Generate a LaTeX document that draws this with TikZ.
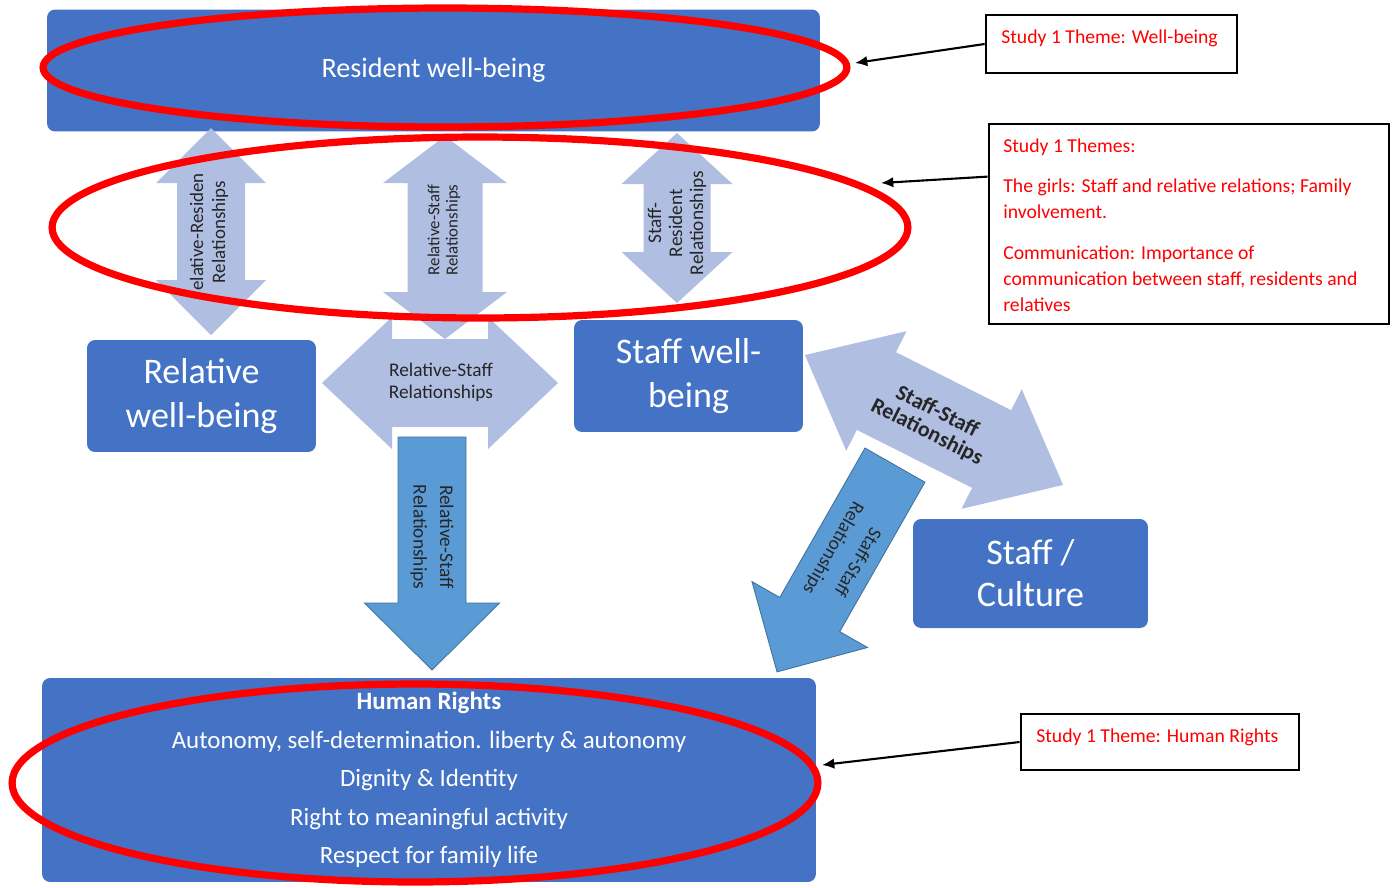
\documentclass[tikz,border=0pt]{standalone}
\usepackage{fontspec}
\setmainfont{Carlito}
\usetikzlibrary{arrows.meta,shapes.geometric}
\definecolor{boxblue}{HTML}{4472C4}
\definecolor{paleblue}{HTML}{B0BEE2}
\definecolor{midblue}{HTML}{5B9BD5}
\definecolor{midblueedge}{HTML}{41719C}
\definecolor{ringred}{HTML}{FF0000}
\definecolor{labelgrey}{HTML}{262626}
\newcommand{\fsz}[2]{\fontsize{#1}{#2}\selectfont}
% block arrows in local coordinates:
% #1 style, #2 half length, #3 head length, #4 half head width, #5 half shaft width
\newcommand{\twohead}[5]{%
  \path[#1] (-#2,0) -- (-#2+#3,#4) -- (-#2+#3,#5) -- (#2-#3,#5) -- (#2-#3,#4)
    -- (#2,0) -- (#2-#3,-#4) -- (#2-#3,-#5) -- (-#2+#3,-#5) -- (-#2+#3,-#4) -- cycle;}
\newcommand{\onehead}[5]{%
  \path[#1] (-#2,-#5) -- (#2-#3,-#5) -- (#2-#3,-#4) -- (#2,0) -- (#2-#3,#4)
    -- (#2-#3,#5) -- (-#2,#5) -- cycle;}

\begin{document}
\begin{tikzpicture}[
  x=0.02cm,
  y=-0.02cm,
  every node/.style={font=\fsz{11}{13}},
  bluebox/.style={rectangle, rounded corners=0.16cm, fill=boxblue, text=white,
                  align=center, inner sep=0pt},
  ring/.style={ellipse, draw=ringred, line width=4.1pt, inner sep=0pt},
  themebox/.style={rectangle, draw=black, line width=1.6pt, inner sep=0pt},
  themetext/.style={anchor=north west, text=ringred, align=left, inner sep=0pt,
                    font=\fsz{11.2}{15}},
  palearrow/.style={fill=paleblue},
  midarrow/.style={fill=midblue, draw=midblueedge, line width=0.5pt},
  arrowlabel/.style={text=labelgrey, align=center, inner sep=0pt},
  callarrow/.style={black, line width=1.2pt, -{Latex[length=7pt, width=6pt]}}
]
  \useasboundingbox (0,0) rectangle (1394,887);

  % ---- well-being boxes ----
  \node[bluebox, minimum width=15.46cm, minimum height=2.44cm, font=\fsz{16}{19}]
    (resident) at (433.5,70.5) {Resident well-being};
  \node[bluebox, minimum width=4.58cm, minimum height=2.24cm, font=\fsz{20.5}{25}]
    (relative) at (201.5,396) {Relative\\well-being};
  \node[bluebox, minimum width=4.58cm, minimum height=2.24cm, font=\fsz{20.5}{25}]
    (staff) at (688.5,376) {Staff well-\\being};
  \node[bluebox, minimum width=4.7cm, minimum height=2.18cm, font=\fsz{20.5}{24}]
    (culture) at (1030.5,573.5) {Staff /\\Culture};
  \node[bluebox, minimum width=15.48cm, minimum height=4.08cm, font=\fsz{14.2}{21.9}]
    (rights) at (429,780) {\textbf{Human Rights}\\
      Autonomy, self-determination. liberty \& autonomy\\
      Dignity \& Identity\\
      Right to meaningful activity\\
      Respect for family life};

  % ---- relationship arrows ----
  \begin{scope}[shift={(211,231.5)}, rotate=90]
    \twohead{palearrow}{103.5}{55}{55}{34}
  \end{scope}
  \begin{scope}[shift={(445,237.5)}, rotate=90]
    \twohead{palearrow}{101.5}{47}{62}{37.5}
  \end{scope}
  \begin{scope}[shift={(677,218)}, rotate=90]
    \twohead{palearrow}{85}{51}{55.5}{33.5}
  \end{scope}
  \begin{scope}[shift={(440,383)}]
    \twohead{palearrow}{118}{70}{66}{44}
  \end{scope}
  \begin{scope}[shift={(934,420)}, rotate=-26.7]
    \twohead{palearrow}{144.5}{80}{67}{43.5}
  \end{scope}
  \begin{scope}[shift={(432,553.5)}, rotate=-90]
    \onehead{midarrow}{116.5}{67}{67.5}{34}
  \end{scope}
  \begin{scope}[shift={(836,568.5)}, rotate=-119.7]
    \onehead{midarrow}{119}{66}{66.5}{34.5}
  \end{scope}

  % ---- arrow labels ----
  \node[arrowlabel, rotate=90, font=\fsz{10.8}{12.5}] (relreslabel) at (209,232)
    {elative-Residen\\Relationships};
  \node[arrowlabel, rotate=90, font=\fsz{9.6}{10.5}] (relstafflabel) at (444,230)
    {Relative-Staff\\Relationships};
  \node[arrowlabel, rotate=90, font=\fsz{11}{12}] (staffreslabel) at (677,223)
    {Staff-\\Resident\\Relationships};
  \node[arrowlabel, font=\fsz{11}{12.5}] (relstaffmid) at (441,382)
    {Relative-Staff\\Relationships};
  \node[arrowlabel, rotate=-26.7, font=\bfseries\fsz{12.5}{13}] (staffstafflabel) at (932,422)
    {Staff-Staff\\Relationships};
  \node[arrowlabel, rotate=-90, font=\fsz{11}{15}] (relstaffdown) at (432,537)
    {Relative-Staff\\Relationships};
  \node[arrowlabel, rotate=-120, font=\fsz{10.9}{16}] (staffstaffdown) at (845,555)
    {Staff-Staff\\Relationships};

  % ---- red rings ----
  \node[ring, minimum width=16.08cm, minimum height=2.38cm] (topring) at (445,67.5) {};
  \node[ring, minimum width=17.12cm, minimum height=3.62cm] (midring) at (480,227.5) {};
  \node[ring, minimum width=16.12cm, minimum height=3.96cm] (botring) at (415,783) {};

  % ---- study themes ----
  \node[themebox, minimum width=5.02cm, minimum height=1.16cm] (themeA) at (1111.5,44) {};
  \node[themetext] (themeAtext) at (1001,29) {Study 1 Theme: Well-being};
  \node[themebox, minimum width=8cm, minimum height=4cm] (themeB) at (1189,224) {};
  \node[themetext] (themeBtext) at (1003,138) {Study 1 Themes:\\[8pt]
    The girls: Staff and relative relations; Family\\
    involvement.\\[8pt]
    Communication: Importance of\\
    communication between staff, residents and\\
    relatives};
  \node[themebox, minimum width=5.56cm, minimum height=1.12cm] (themeC) at (1160,742) {};
  \node[themetext] (themeCtext) at (1036,728) {Study 1 Theme: Human Rights};

  % ---- pointers ----
  \coordinate (tophit) at (855,63);
  \coordinate (midhit) at (881,183);
  \coordinate (bothit) at (822,765);
  \draw[callarrow] (themeA.west) -- (tophit);
  \draw[callarrow] ([yshift=-1.08cm]themeB.north west) -- (midhit);
  \draw[callarrow] (themeC.west) -- (bothit);
\end{tikzpicture}
\end{document}
